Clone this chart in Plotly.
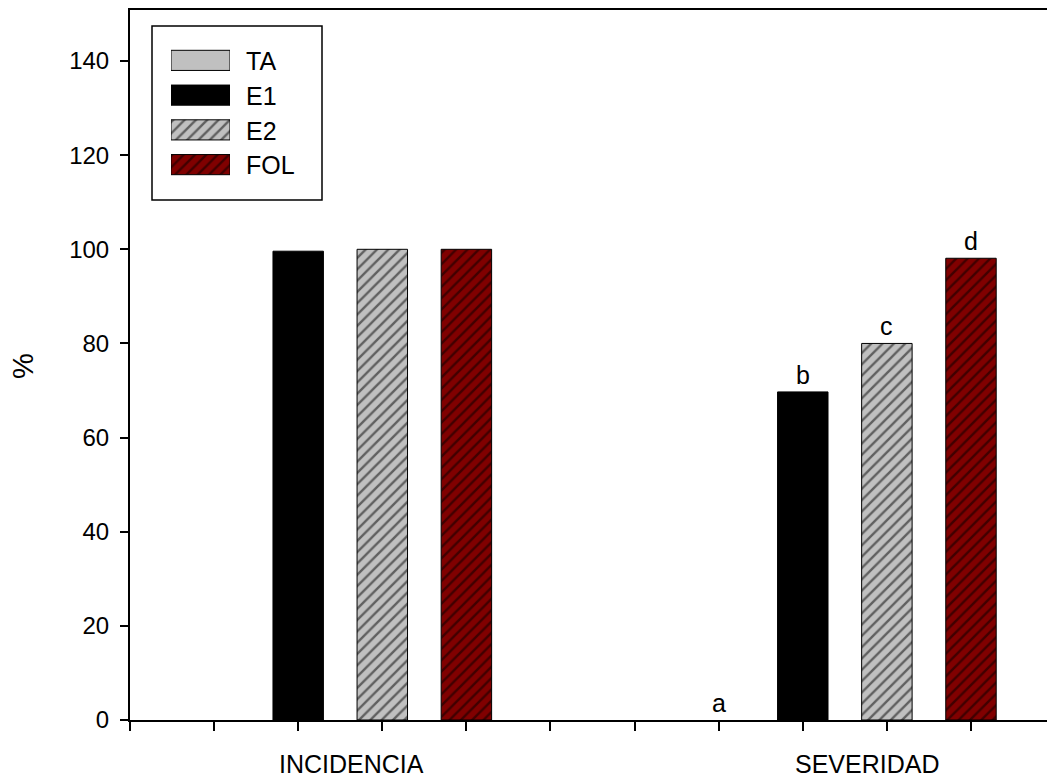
import plotly.graph_objects as go

# ---------------- data ----------------
groups = ["INCIDENCIA", "SEVERIDAD"]
series = ["TA", "E1", "E2", "FOL"]
ta_vals = [0.0, 0.0]
e1_vals = [99.6, 69.7]
e2_vals = [100.0, 80.0]
fol_vals = [100.0, 98.1]
sev_letters = ["a", "b", "c", "d"]
y_ticks = [0, 20, 40, 60, 80, 100, 120, 140]

values = [ta_vals, e1_vals, e2_vals, fol_vals]

# ---------------- styles / layout ----------------
FONT = "Liberation Sans, Arial, sans-serif"
W, H = 1047, 777
L, R, T, B = 130, 0, 10, 57
PW, PH = W - L - R, H - T - B

group_start = [1, 7]          # x slot of first series in each group
group_label_x = [2.63, 8.76]  # label centres in x units
bar_w = 0.6
x_range = [0, 10.904]
y_range = [0, 150.84]

styles = [
    dict(color="#C0C0C0", pattern=None),
    dict(color="#000000", pattern=None),
    dict(color="#C0C0C0", pattern=dict(shape="/", fgcolor="#000000", bgcolor="#C0C0C0",
                                        size=8, solidity=0.3, fillmode="overlay")),
    dict(color="#800000", pattern=dict(shape="/", fgcolor="#000000", bgcolor="#800000",
                                        size=8, solidity=0.3, fillmode="overlay")),
]


def px_x(p):
    return (p - L) / PW


def px_y(p):
    return (H - B - p) / PH


fig = go.Figure()

for i, name in enumerate(series):
    st = styles[i]
    outline_w = [1 if v > 0 else 0 for v in values[i]]
    marker = dict(color=st["color"], line=dict(color="#000000", width=outline_w))
    if st["pattern"]:
        marker["pattern"] = st["pattern"]
    xs = [group_start[g] + i for g in range(len(groups))]
    fig.add_trace(go.Bar(x=xs, y=values[i], width=bar_w, name=name, marker=marker,
                         showlegend=False, xaxis="x", yaxis="y"))

# custom legend swatches (drawn as bars on an inset axis)
for i, name in enumerate(series):
    st = styles[i]
    marker = dict(color=st["color"], line=dict(color="#000000", width=1))
    if st["pattern"]:
        marker["pattern"] = st["pattern"]
    fig.add_trace(go.Bar(x=[1], y=[i], base=0, orientation="h", width=0.58, marker=marker,
                         showlegend=False, xaxis="x2", yaxis="y2", hoverinfo="skip"))

TXT = 25
annotations = []
# letters above severity bars
for i, letter in enumerate(sev_letters):
    annotations.append(dict(x=group_start[1] + i, y=values[i][1], xref="x", yref="y",
                            text=letter, showarrow=False, yanchor="bottom", yshift=1,
                            font=dict(family=FONT, size=TXT, color="black")))
# group labels
for g, lab in enumerate(groups):
    annotations.append(dict(x=group_label_x[g], y=px_y(764), xref="x", yref="paper",
                            text=lab, showarrow=False, xanchor="center", yanchor="middle",
                            font=dict(family=FONT, size=TXT, color="black")))
# y title
annotations.append(dict(x=px_x(23), y=px_y(366), xref="paper", yref="paper", text="%",
                        textangle=-90, showarrow=False, xanchor="center", yanchor="middle",
                        font=dict(family=FONT, size=29, color="black")))
# legend labels
leg_centers = [61, 96, 131, 165]
for i, name in enumerate(series):
    annotations.append(dict(x=px_x(244), y=px_y(leg_centers[i]), xref="paper", yref="paper",
                            text=name, showarrow=False, xanchor="left", yanchor="middle",
                            font=dict(family=FONT, size=TXT, color="black")))

fig.update_layout(
    width=W, height=H,
    margin=dict(l=L, r=R, t=T, b=B, pad=0),
    plot_bgcolor="white", paper_bgcolor="white",
    font=dict(family=FONT, size=TXT, color="black"),
    barmode="overlay",
    showlegend=False,
    annotations=annotations,
    shapes=[dict(type="rect", xref="paper", yref="paper",
                 x0=px_x(152), x1=px_x(322), y0=px_y(200), y1=px_y(26),
                 line=dict(color="black", width=1.5), fillcolor="white", layer="below")],
    xaxis=dict(range=x_range, showline=True, linecolor="black", linewidth=2, mirror=True,
               ticks="outside", tickvals=list(range(0, 11)), ticklen=9, tickwidth=2,
               tickcolor="black", showticklabels=False, showgrid=False, zeroline=False,
               layer="above traces", fixedrange=True),
    yaxis=dict(range=y_range, showline=True, linecolor="black", linewidth=2, mirror=False,
               ticks="outside", tickvals=y_ticks, ticklen=8, tickwidth=2, tickcolor="black",
               tickfont=dict(family=FONT, size=24, color="black"), showgrid=False,
               ticklabelstandoff=6, zeroline=False, layer="above traces", fixedrange=True),
    xaxis2=dict(domain=[px_x(171), px_x(230)], anchor="y2", range=[0, 1], visible=False,
                fixedrange=True),
    yaxis2=dict(domain=[px_y(182), px_y(43)], anchor="x2", range=[3.5, -0.5], visible=False,
                fixedrange=True),
)

fig.write_html("out.html")
